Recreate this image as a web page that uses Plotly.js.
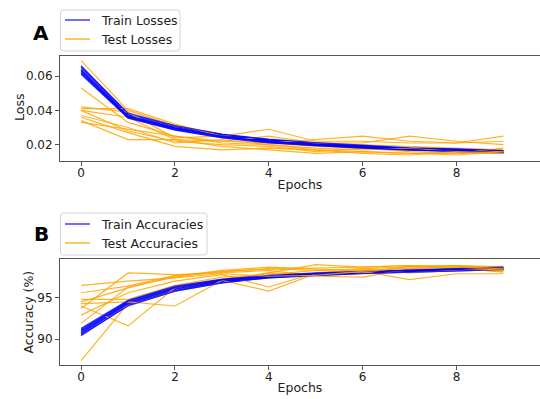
<!DOCTYPE html>
<html><head><meta charset="utf-8">
<script src="https://cdn.plot.ly/plotly-3.0.1.min.js"></script>
<style>html,body{margin:0;padding:0;background:#fff}#chart{width:540px;height:399px}</style>
</head><body><div id="chart"></div>
<script>
const epochs = [0,1,2,3,4,5,6,7,8,9];

const trainLosses = [
  [0.066, 0.038, 0.031, 0.026, 0.023, 0.021, 0.0195, 0.018, 0.0175, 0.0165],
  [0.065, 0.0375, 0.0305, 0.0258, 0.0228, 0.0208, 0.0193, 0.0178, 0.0173, 0.0163],
  [0.064, 0.037, 0.030, 0.0255, 0.0225, 0.0205, 0.019, 0.0177, 0.017, 0.016],
  [0.0635, 0.0368, 0.0298, 0.0253, 0.0223, 0.0203, 0.0189, 0.0176, 0.0169, 0.0159],
  [0.063, 0.0365, 0.0295, 0.025, 0.022, 0.020, 0.0187, 0.0174, 0.0167, 0.0157],
  [0.0625, 0.0363, 0.0293, 0.0248, 0.0218, 0.0199, 0.0186, 0.0173, 0.0166, 0.0156],
  [0.062, 0.036, 0.029, 0.0245, 0.0215, 0.0197, 0.0184, 0.0171, 0.0164, 0.0154],
  [0.0615, 0.0358, 0.0288, 0.0243, 0.0213, 0.0195, 0.0182, 0.017, 0.0163, 0.0153],
  [0.061, 0.0355, 0.0285, 0.024, 0.021, 0.0193, 0.018, 0.0168, 0.0162, 0.0152],
  [0.0655, 0.0385, 0.0312, 0.0262, 0.0232, 0.0212, 0.0197, 0.0182, 0.0176, 0.0166]
];

const testLosses = [
  [0.069, 0.040, 0.031, 0.025, 0.022, 0.021, 0.020, 0.019, 0.018, 0.017],
  [0.053, 0.033, 0.025, 0.022, 0.021, 0.019, 0.018, 0.017, 0.016, 0.016],
  [0.042, 0.039, 0.024, 0.025, 0.029, 0.022, 0.022, 0.021, 0.021, 0.022],
  [0.041, 0.041, 0.032, 0.025, 0.021, 0.023, 0.025, 0.022, 0.021, 0.025],
  [0.040, 0.036, 0.023, 0.022, 0.025, 0.021, 0.021, 0.025, 0.022, 0.020],
  [0.040, 0.028, 0.022, 0.020, 0.019, 0.016, 0.018, 0.016, 0.015, 0.018],
  [0.037, 0.030, 0.021, 0.023, 0.020, 0.018, 0.017, 0.018, 0.016, 0.016],
  [0.036, 0.027, 0.019, 0.017, 0.018, 0.017, 0.016, 0.015, 0.015, 0.015],
  [0.034, 0.023, 0.023, 0.019, 0.017, 0.015, 0.016, 0.015, 0.014, 0.016],
  [0.033, 0.029, 0.025, 0.021, 0.020, 0.017, 0.015, 0.014, 0.016, 0.015]
];

const trainAcc = [
  [90.4, 94.1, 95.8, 96.8, 97.4, 97.7, 97.95, 98.1, 98.25, 98.4],
  [90.6, 94.2, 95.9, 96.9, 97.45, 97.75, 98.0, 98.15, 98.3, 98.45],
  [90.7, 94.3, 96.0, 96.95, 97.5, 97.8, 98.0, 98.2, 98.3, 98.5],
  [90.8, 94.4, 96.1, 97.0, 97.5, 97.8, 98.05, 98.2, 98.35, 98.5],
  [90.9, 94.4, 96.1, 97.05, 97.55, 97.85, 98.05, 98.25, 98.4, 98.55],
  [91.0, 94.5, 96.2, 97.1, 97.6, 97.9, 98.1, 98.25, 98.4, 98.6],
  [91.1, 94.6, 96.3, 97.15, 97.6, 97.9, 98.1, 98.3, 98.45, 98.6],
  [91.2, 94.6, 96.3, 97.2, 97.65, 97.95, 98.15, 98.3, 98.45, 98.65],
  [90.5, 94.0, 95.8, 96.8, 97.4, 97.7, 97.9, 98.1, 98.25, 98.4],
  [91.3, 94.7, 96.4, 97.25, 97.7, 98.0, 98.2, 98.35, 98.5, 98.7]
];

const testAcc = [
  [87.4, 94.3, 95.8, 97.0, 98.0, 97.8, 98.3, 98.6, 98.6, 98.4],
  [91.9, 96.3, 97.5, 98.2, 98.5, 98.3, 98.5, 98.8, 98.9, 98.6],
  [92.9, 95.6, 97.0, 97.8, 96.3, 98.0, 98.1, 98.3, 98.5, 98.2],
  [93.7, 98.0, 97.8, 98.0, 98.3, 97.6, 97.5, 98.5, 98.8, 98.8],
  [94.0, 91.6, 96.2, 97.2, 98.0, 99.0, 98.7, 98.9, 98.6, 98.1],
  [94.3, 94.5, 94.0, 97.1, 95.8, 97.9, 98.5, 98.0, 98.3, 98.5],
  [94.5, 96.2, 97.6, 98.3, 98.7, 98.5, 98.2, 97.2, 97.9, 97.9],
  [94.8, 94.8, 96.5, 97.5, 97.8, 98.3, 98.0, 98.8, 98.9, 98.7],
  [95.6, 96.4, 97.7, 98.1, 98.5, 98.6, 98.7, 98.9, 98.7, 98.3],
  [96.5, 97.0, 97.4, 97.9, 97.6, 97.7, 98.2, 98.6, 98.8, 98.5]
];

const lossTicks = [0.02, 0.04, 0.06];
const accTicks = [90, 95];
const xTicks = [0, 2, 4, 6, 8];
const legendA = ['Train Losses', 'Test Losses'];
const legendB = ['Train Accuracies', 'Test Accuracies'];

const BLUE = 'rgba(0,0,255,0.75)';
const ORANGE = 'rgba(255,165,0,0.85)';
const FONT = 'DejaVu Sans, sans-serif';
const W = 540, H = 399, ML = 60, PW = 480;
const px = v => (v - ML) / PW;       // pixel x -> paper x
const py = v => 1 - v / H;           // pixel y -> paper y

const traces = [];
for (let i = 0; i < trainLosses.length; i++) {
  traces.push({x: epochs, y: trainLosses[i], mode: 'lines', line: {color: BLUE, width: 1.2},
    name: legendA[0], showlegend: false, xaxis: 'x', yaxis: 'y', hoverinfo: 'skip'});
  traces.push({x: epochs, y: testLosses[i], mode: 'lines', line: {color: ORANGE, width: 1.2},
    name: legendA[1], showlegend: false, xaxis: 'x', yaxis: 'y', hoverinfo: 'skip'});
}
for (let i = 0; i < trainAcc.length; i++) {
  traces.push({x: epochs, y: trainAcc[i], mode: 'lines', line: {color: BLUE, width: 1.2},
    name: legendB[0], showlegend: false, xaxis: 'x2', yaxis: 'y2', hoverinfo: 'skip'});
  traces.push({x: epochs, y: testAcc[i], mode: 'lines', line: {color: ORANGE, width: 1.2},
    name: legendB[1], showlegend: false, xaxis: 'x2', yaxis: 'y2', hoverinfo: 'skip'});
}

const axisCommon = {
  showgrid: false, zeroline: false, showline: true, linecolor: '#555', linewidth: 1,
  ticks: 'outside', ticklen: 4, tickcolor: '#555', tickfont: {family: FONT, size: 12, color: '#222'},
  automargin: false
};

function roundRect(x0, y0, x1, y1, r) {
  const a = px(x0), b = px(x1), rx = r / PW;
  const c = py(y0), d = py(y1), ry = r / H;
  return `M ${a+rx},${c} L ${b-rx},${c} Q ${b},${c} ${b},${c-ry} L ${b},${d+ry} Q ${b},${d} ${b-rx},${d} ` +
         `L ${a+rx},${d} Q ${a},${d} ${a},${d+ry} L ${a},${c-ry} Q ${a},${c} ${a+rx},${c} Z`;
}
const legBoxes = [
  {x0: 60.5, y0: 10, x1: 180, y1: 51, rows: [20, 39], labels: legendA},
  {x0: 60.5, y0: 213, x1: 207, y1: 255, rows: [224, 243], labels: legendB}
];
const shapes = [], annotations = [];
const legColors = [BLUE, ORANGE];
legBoxes.forEach(bx => {
  shapes.push({type: 'path', xref: 'paper', yref: 'paper', path: roundRect(bx.x0, bx.y0, bx.x1, bx.y1, 3),
    line: {color: '#d3d3d3', width: 1}, fillcolor: 'rgba(255,255,255,0.8)'});
  bx.rows.forEach((ry, k) => {
    shapes.push({type: 'line', xref: 'paper', yref: 'paper', x0: px(65), x1: px(90), y0: py(ry), y1: py(ry),
      line: {color: legColors[k], width: 1.5}});
    annotations.push({text: bx.labels[k], xref: 'paper', yref: 'paper', x: px(99), y: py(ry),
      xanchor: 'left', yanchor: 'middle', showarrow: false, font: {family: FONT, size: 12.5, color: '#222'}});
  });
});

annotations.push(
  {text: '<b>A</b>', xref: 'paper', yref: 'paper', x: px(41), y: py(33), xanchor: 'center', yanchor: 'middle',
    showarrow: false, font: {family: FONT, size: 20, color: '#000'}},
  {text: '<b>B</b>', xref: 'paper', yref: 'paper', x: px(41.5), y: py(233.5), xanchor: 'center', yanchor: 'middle',
    showarrow: false, font: {family: FONT, size: 20, color: '#000'}},
  {text: 'Loss', xref: 'paper', yref: 'paper', x: px(19), y: py(108), xanchor: 'center', yanchor: 'middle',
    textangle: -90, showarrow: false, font: {family: FONT, size: 12.5, color: '#222'}},
  {text: 'Accuracy (%)', xref: 'paper', yref: 'paper', x: px(27.5), y: py(312), xanchor: 'center', yanchor: 'middle',
    textangle: -90, showarrow: false, font: {family: FONT, size: 12.5, color: '#222'}}
);

const layout = {
  width: W, height: H,
  margin: {l: ML, r: 0, t: 0, b: 0},
  paper_bgcolor: '#fff', plot_bgcolor: '#fff',
  font: {family: FONT, size: 12, color: '#222'},
  showlegend: false,
  xaxis: Object.assign({}, axisCommon, {domain: [0, 1], anchor: 'y', range: [-0.45, 9.78], tickvals: xTicks, mirror: true,
    ticklabelstandoff: -3, title: {text: 'Epochs', font: {family: FONT, size: 12.5, color: '#222'}, standoff: 0}}),
  yaxis: Object.assign({}, axisCommon, {domain: [py(161), py(56)], anchor: 'x', range: [0.0105, 0.0717], tickvals: lossTicks, tickformat: '.2f'}),
  xaxis2: Object.assign({}, axisCommon, {domain: [0, 1], anchor: 'y2', range: [-0.45, 9.78], tickvals: xTicks, mirror: true,
    ticklabelstandoff: -3, title: {text: 'Epochs', font: {family: FONT, size: 12.5, color: '#222'}, standoff: 0}}),
  yaxis2: Object.assign({}, axisCommon, {domain: [py(364.7), py(259.3)], anchor: 'x2', range: [86.9, 99.65], tickvals: accTicks}),
  shapes: shapes,
  annotations: annotations
};

Plotly.newPlot('chart', traces, layout, {displayModeBar: false, staticPlot: true});
</script>
</body></html>
